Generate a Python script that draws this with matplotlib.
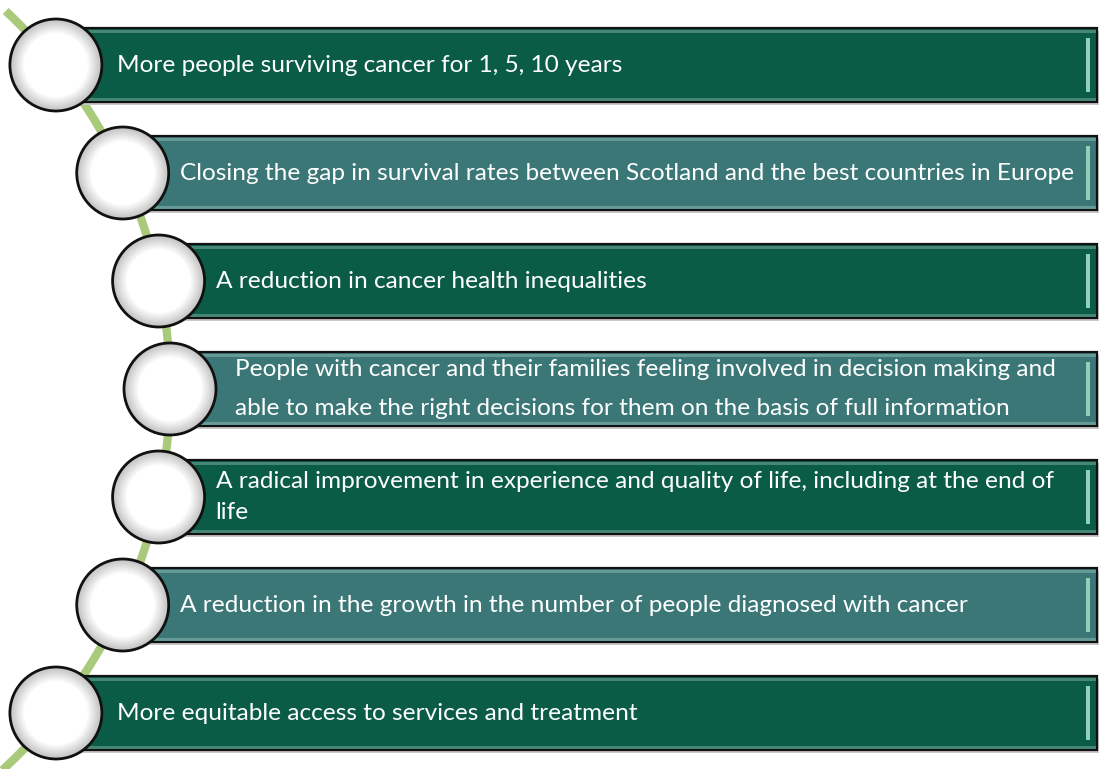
import numpy as np
import matplotlib.pyplot as plt
from matplotlib.patches import Rectangle, Circle

plt.rcParams['font.family'] = ['Lato', 'DejaVu Sans']

labels = [
    ["More people surviving cancer for 1, 5, 10 years"],
    ["Closing the gap in survival rates between Scotland and the best countries in Europe"],
    ["A reduction in cancer health inequalities"],
    ["People with cancer and their families feeling involved in decision making and",
     "able to make the right decisions for them on the basis of full information"],
    ["A radical improvement in experience and quality of life, including at the end of",
     "life"],
    ["A reduction in the growth in the number of people diagnosed with cancer"],
    ["More equitable access to services and treatment"],
]
bar_colors = ["#0b5c47", "#3a7776", "#0b5c47", "#3a7776", "#0b5c47", "#3a7776", "#0b5c47"]

W, H = 1099, 769
fig = plt.figure(figsize=(W / 100, H / 100), dpi=100)
ax = fig.add_axes([0, 0, 1, 1])
ax.set_xlim(0, W)
ax.set_ylim(H, 0)
ax.axis('off')

# arc through the circle centres
acx, acy, R = -347, 389, 517
y0, step = 65, 108
ys = [y0 + i * step for i in range(len(labels))]
xs = [acx + np.sqrt(R ** 2 - (y - acy) ** 2) for y in ys]

t = np.linspace(-0.82, 0.86, 300)
ax.plot(acx + R * np.cos(t), acy + R * np.sin(t), color="#a9c97b", lw=6, solid_capstyle='butt', zorder=1)

bh = 74
right = 1097
text_dx = [61, 57, 57, 65, 57, 57, 61]
line_gap = [0, 0, 0, 39, 31, 0, 0]
fs = 17.6

for i, (lines, col) in enumerate(zip(labels, bar_colors)):
    x, y = xs[i], ys[i]
    top = y - bh / 2
    # shadow
    ax.add_patch(Rectangle((x + 2, top + 3), right - x, bh, facecolor="#c8c8c8", edgecolor='none', zorder=2))
    ax.add_patch(Rectangle((x, top), right - x, bh, facecolor=col, edgecolor="#111111", lw=1.6, zorder=3))
    # bevel highlights
    hl = "#5f9a8c" if col == "#0b5c47" else "#7aa9a6"
    ax.add_patch(Rectangle((x, top + 1.5), right - x - 1, 3, facecolor=hl, edgecolor='none', alpha=0.7, zorder=4))
    ax.add_patch(Rectangle((x, top + bh - 4.5), right - x - 1, 3, facecolor=hl, edgecolor='none', alpha=0.7, zorder=4))
    ax.add_patch(Rectangle((right - 11, top + 10), 4, bh - 20, facecolor="#8fd0b8", edgecolor='none', zorder=4))

    # circle with soft gradient
    r = 46
    n = 30
    for k in range(n):
        f = 1 - k / n
        g = 0.76 + 0.24 * min(1.0, (1 - f) / 0.3)
        ax.add_patch(Circle((x, y), r * f, facecolor=(g, g, g), edgecolor='none', zorder=5))
    ax.add_patch(Circle((x, y), r, facecolor='none', edgecolor="#111111", lw=2, zorder=6))

    if len(lines) == 1:
        ax.text(x + text_dx[i], y + 1, lines[0], color='white', fontsize=fs, va='center', ha='left', zorder=7)
    else:
        gap = line_gap[i]
        for j, ln in enumerate(lines):
            ax.text(x + text_dx[i], y - gap / 2 + j * gap, ln, color='white', fontsize=fs,
                    va='center', ha='left', zorder=7)

fig.savefig("out.png", dpi=100)
